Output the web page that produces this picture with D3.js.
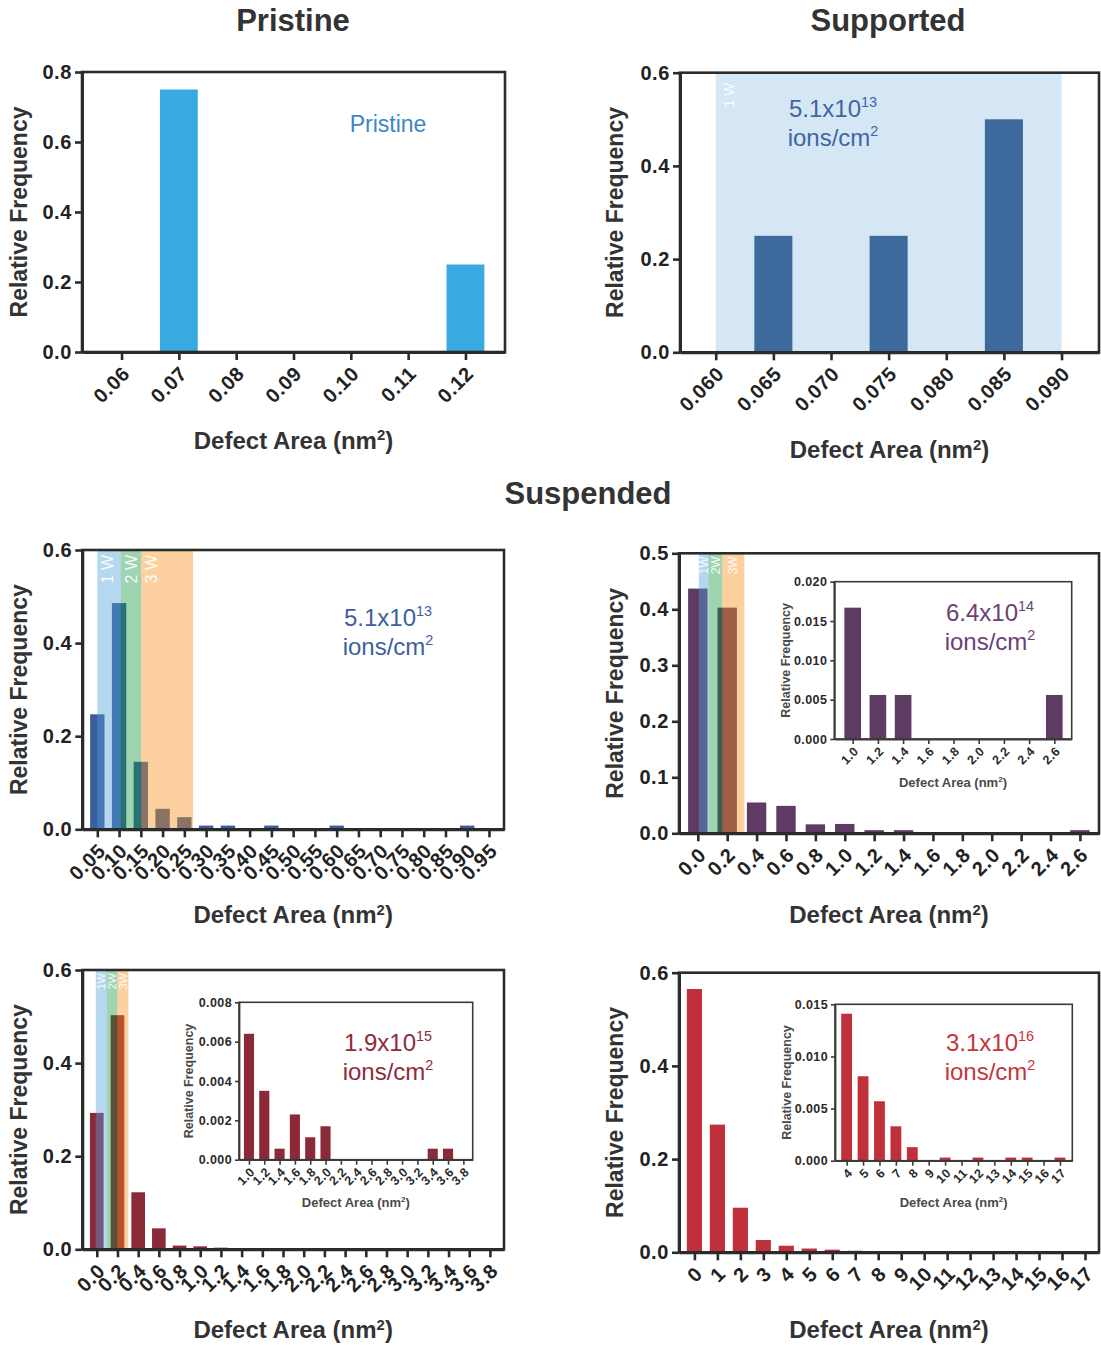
<!DOCTYPE html>
<html><head><meta charset="utf-8">
<script src="https://cdn.jsdelivr.net/npm/d3@7"></script>
<style>body{margin:0;background:#fff}svg{display:block}</style>
</head><body>
<script>
const FONT = '"Liberation Sans", Arial, Helvetica, sans-serif';

// ---- Histogram data: defect area bins (nm²) and relative frequency ----
const pristineArea = [0.06, 0.07, 0.08, 0.09, 0.10, 0.11, 0.12];
const pristineFreq = [0, 0.75, 0, 0, 0, 0, 0.25];

const supportedArea = [0.060, 0.065, 0.070, 0.075, 0.080, 0.085, 0.090];
const supportedFreq = [0, 0.25, 0, 0.25, 0, 0.50, 0];

const susp13Area = [0.05, 0.10, 0.15, 0.20, 0.25, 0.30, 0.35, 0.40, 0.45, 0.50,
                    0.55, 0.60, 0.65, 0.70, 0.75, 0.80, 0.85, 0.90, 0.95];
const susp13Freq = [0.247, 0.486, 0.145, 0.044, 0.026, 0.008, 0.008, 0, 0.008, 0,
                    0, 0.008, 0, 0, 0, 0, 0, 0.008, 0];

const susp14Area = [0.0, 0.2, 0.4, 0.6, 0.8, 1.0, 1.2, 1.4, 1.6, 1.8, 2.0, 2.2, 2.4, 2.6];
const susp14Freq = [0.437, 0.403, 0.055, 0.049, 0.016, 0.0167, 0.0056, 0.0056, 0, 0, 0, 0, 0, 0.0056];

const susp15Area = [0.0, 0.2, 0.4, 0.6, 0.8, 1.0, 1.2, 1.4, 1.6, 1.8,
                    2.0, 2.2, 2.4, 2.6, 2.8, 3.0, 3.2, 3.4, 3.6, 3.8];
const susp15Freq = [0.293, 0.503, 0.1225, 0.045, 0.008, 0.0064, 0.0035, 0.00056, 0.0023, 0.00114,
                    0.0017, 0, 0, 0, 0, 0, 0, 0.00056, 0.00056, 0];

const susp16Area = [0, 1, 2, 3, 4, 5, 6, 7, 8, 9, 10, 11, 12, 13, 14, 15, 16, 17];
const susp16Freq = [0.565, 0.274, 0.0957, 0.0264, 0.0141, 0.0081, 0.0057, 0.0033, 0.0013, 0,
                    0.0003, 0, 0.0003, 0, 0.0003, 0.0003, 0, 0.0003];

// ---- Tick values ----
const yTicks08 = [0, 0.2, 0.4, 0.6, 0.8];
const yTicks06 = [0, 0.2, 0.4, 0.6];
const yTicks05 = [0, 0.1, 0.2, 0.3, 0.4, 0.5];
const yTicksIn14 = [0, 0.005, 0.010, 0.015, 0.020];
const yTicksIn15 = [0, 0.002, 0.004, 0.006, 0.008];
const yTicksIn16 = [0, 0.005, 0.010, 0.015];

// ---- Vacancy-count regions (nm²) ----
const bandsSupported = [{ label: "1 W", x0: 0.060, x1: 0.090, kind: "w1" }];
const bands13 = [
  { label: "1 W", x0: 0.05, x1: 0.104, kind: "w1" },
  { label: "2 W", x0: 0.104, x1: 0.151, kind: "w2" },
  { label: "3 W", x0: 0.151, x1: 0.27, kind: "w3" }];
const bands14 = [
  { label: "1W", x0: 0.007, x1: 0.072, kind: "w1" },
  { label: "2W", x0: 0.072, x1: 0.167, kind: "w2" },
  { label: "3W", x0: 0.167, x1: 0.317, kind: "w3" }];
const bands15 = [
  { label: "1W", x0: -0.01, x1: 0.097, kind: "w1" },
  { label: "2W", x0: 0.097, x1: 0.199, kind: "w2" },
  { label: "3W", x0: 0.199, x1: 0.305, kind: "w3" }];

const bandFill = { w1: "#4f9fdc", w2: "#0c9337", w3: "#fa8f1d" };
const bandAlpha = { w1: 0.42, w2: 0.40, w3: 0.42 };

const svg = d3.select("body").append("svg")
  .attr("width", 1101).attr("height", 1345)
  .style("font-family", FONT);

function drawPanel(o) {
  const g = svg.append("g");
  const n = o.area.length;
  const step = o.area[1] - o.area[0];
  const x = d3.scaleLinear()
    .domain([o.area[0] - o.padL * step, o.area[n - 1] + o.padR * step])
    .range([o.left, o.right]);
  const y = d3.scaleLinear().domain([0, o.yMax]).range([o.bottom, o.top]);
  const half = 0.33 * step;

  if (o.inset) {
    g.append("rect").attr("x", o.left).attr("y", o.top)
      .attr("width", o.right - o.left).attr("height", o.bottom - o.top).attr("fill", "#fff");
  }

  // pale region drawn behind the bars
  if (o.bandsUnder) {
    g.selectAll("rect.bandU").data(o.bandsUnder).join("rect")
      .attr("x", d => x(d.x0)).attr("width", d => x(d.x1) - x(d.x0))
      .attr("y", o.top).attr("height", o.bottom - o.top)
      .attr("fill", o.underFill);
  }

  const rows = o.area.map((a, i) => ({ a, f: o.freq[i] })).filter(d => d.f > 0);
  g.selectAll("rect.bar").data(rows).join("rect")
    .attr("x", d => x(d.a - half))
    .attr("width", d => x(d.a + half) - x(d.a - half))
    .attr("y", d => y(d.f))
    .attr("height", d => y(0) - y(d.f))
    .attr("fill", o.color);

  // translucent regions laid over the bars
  if (o.bandsOver) {
    g.selectAll("rect.bandO").data(o.bandsOver).join("rect")
      .attr("x", d => x(d.x0)).attr("width", d => x(d.x1) - x(d.x0))
      .attr("y", o.top).attr("height", o.bottom - o.top)
      .attr("fill", d => bandFill[d.kind]).attr("fill-opacity", d => bandAlpha[d.kind]);
  }

  const bands = o.bandsUnder || o.bandsOver;
  if (bands) {
    g.selectAll("text.band").data(bands).join("text")
      .attr("transform", d => {
        const w = x(d.x1) - x(d.x0);
        const cx = x(d.x0) + Math.min(w / 2, o.bandLabelOffset);
        return `translate(${cx},${o.top + o.bandLabelTop}) rotate(-90)`;
      })
      .attr("text-anchor", "end").attr("dy", "0.36em")
      .attr("fill", "#fff").attr("fill-opacity", 0.92)
      .style("font-size", o.bandLabelSize + "px")
      .text(d => d.label);
  }

  // frame
  g.append("rect").attr("x", o.left).attr("y", o.top)
    .attr("width", o.right - o.left).attr("height", o.bottom - o.top)
    .attr("fill", "none").attr("stroke", o.frameColor).attr("stroke-width", o.frameW);

  const ya = g.append("g").attr("transform", `translate(${o.left},0)`)
    .call(d3.axisLeft(y).tickValues(o.yTicks).tickFormat(d3.format(o.yFmt))
      .tickSize(o.tick).tickSizeOuter(0).tickPadding(o.tickPad));
  const xa = g.append("g").attr("transform", `translate(0,${o.bottom})`)
    .call(d3.axisBottom(x).tickValues(o.xTicks || o.area).tickFormat(d3.format(o.xFmt))
      .tickSize(o.tick + 1).tickSizeOuter(0));

  [ya, xa].forEach(a => {
    a.select(".domain").attr("stroke", o.frameColor).attr("stroke-width", o.axisW);
    a.selectAll(".tick line").attr("stroke", o.frameColor).attr("stroke-width", o.tickW);
    a.selectAll("text").attr("fill", o.textColor)
      .style("font-size", o.tickFont + "px").style("font-weight", "bold")
      .style("font-family", FONT).style("letter-spacing", o.letter + "px");
  });
  xa.selectAll("text")
    .attr("x", 0).attr("y", 0).attr("dy", "0.35em")
    .attr("text-anchor", "end")
    .attr("transform", `translate(${o.lx},${o.ly}) rotate(-45)`);

  // axis titles
  g.append("text")
    .attr("transform", `translate(${o.left + o.yTitleDx},${(o.top + o.bottom) / 2}) rotate(-90)`)
    .attr("text-anchor", "middle").attr("fill", o.titleColor)
    .style("font-size", o.yTitleFont + "px").style("font-weight", "bold")
    .text("Relative Frequency");
  const xt = g.append("text")
    .attr("x", (o.left + o.right) / 2).attr("y", o.bottom + o.xTitleDy)
    .attr("text-anchor", "middle").attr("fill", o.titleColor)
    .style("font-size", o.titleFont + "px").style("font-weight", "bold");
  xt.append("tspan").text("Defect Area (nm");
  xt.append("tspan").attr("dy", -0.36 * o.titleFont).style("font-size", (0.62 * o.titleFont) + "px").text("2");
  xt.append("tspan").attr("dy", 0.36 * o.titleFont).text(")");
  return { g, x, y };
}

const mainStyle = {
  frameColor: "#2b2b2b", frameW: 2.6, axisW: 3, tickW: 2.6, tick: 7, tickPad: 3,
  tickFont: 20, letter: 0.6, textColor: "#222", titleColor: "#333", titleFont: 24, yTitleFont: 23,
  lx: 4, ly: 18
};
const insetStyle = {
  frameColor: "#3a3a3a", frameW: 1.6, axisW: 1.8, tickW: 1.6, tick: 4, tickPad: 3,
  tickFont: 12.5, letter: 0.4, textColor: "#2a2a2a", titleColor: "#4a4a4a", titleFont: 13, yTitleFont: 12.5,
  lx: 3, ly: 10, inset: true
};

function annotate(cx, y1, lines, color, size) {
  lines.forEach((ln, i) => {
    const t = svg.append("text").attr("x", cx).attr("y", y1 + i * 29)
      .attr("text-anchor", "middle").attr("fill", color)
      .style("font-size", size + "px");
    t.append("tspan").text(ln[0]);
    if (ln[1]) t.append("tspan").attr("dy", -0.42 * size)
      .style("font-size", (0.6 * size) + "px").text(ln[1]);
  });
}

function heading(cx, y, label) {
  svg.append("text").attr("x", cx).attr("y", y).attr("text-anchor", "middle")
    .attr("fill", "#333").style("font-size", "31px").style("font-weight", "bold").text(label);
}

// ---- Section headings ----
heading(293, 31, "Pristine");
heading(888, 31, "Supported");
heading(588, 504, "Suspended");

// ---- Pristine ----
drawPanel({ ...mainStyle, area: pristineArea, freq: pristineFreq,
  left: 82, right: 505, top: 72, bottom: 352, padL: 0.69, padR: 0.69,
  yMax: 0.8, yTicks: yTicks08, yFmt: ".1f", xFmt: ".2f", color: "#39a9e1",
  yTitleDx: -55, xTitleDy: 97 });
annotate(388, 132, [["Pristine"]], "#3b87c8", 23);

// ---- Supported ----
drawPanel({ ...mainStyle, area: supportedArea, freq: supportedFreq,
  left: 680, right: 1099, top: 72.7, bottom: 352.3, padL: 0.62, padR: 0.65,
  yMax: 0.6, yTicks: yTicks06, yFmt: ".1f", xFmt: ".3f", color: "#3e699d",
  bandsUnder: bandsSupported, underFill: "#d5e6f5",
  bandLabelOffset: 13, bandLabelTop: 10, bandLabelSize: 14,
  yTitleDx: -57, xTitleDy: 106 });
annotate(833, 117, [["5.1x10", "13"], ["ions/cm", "2"]], "#3d66a3", 24);

// ---- Suspended, 5.1x10^13 ----
drawPanel({ ...mainStyle, area: susp13Area, freq: susp13Freq,
  left: 82.3, right: 504, top: 550, bottom: 829.3, padL: 0.69, padR: 0.69,
  yMax: 0.6, yTicks: yTicks06, yFmt: ".1f", xFmt: ".2f", color: "#3a5e9b",
  bandsOver: bands13, bandLabelOffset: 10, bandLabelTop: 5, bandLabelSize: 16,
  yTitleDx: -55, xTitleDy: 94 });
annotate(388, 626, [["5.1x10", "13"], ["ions/cm", "2"]], "#3d5f9f", 24);

// ---- Suspended, 6.4x10^14 ----
drawPanel({ ...mainStyle, area: susp14Area, freq: susp14Freq,
  left: 679, right: 1099, top: 553.3, bottom: 833.3, padL: 0.64, padR: 0.65,
  yMax: 0.5, yTicks: yTicks05, yFmt: ".1f", xFmt: ".1f", color: "#5e3b63",
  bandsOver: bands14, bandLabelOffset: 10, bandLabelTop: 3, bandLabelSize: 12,
  yTitleDx: -56, xTitleDy: 90 });
drawPanel({ ...insetStyle, area: susp14Area.slice(5), freq: susp14Freq.slice(5),
  left: 834.3, right: 1071.7, top: 581.7, bottom: 739, padL: 0.73, padR: 0.69,
  yMax: 0.02, yTicks: yTicksIn14, yFmt: ".3f", xFmt: ".1f", color: "#5e3b63",
  yTitleDx: -44, xTitleDy: 48 });
annotate(990, 621, [["6.4x10", "14"], ["ions/cm", "2"]], "#6b4173", 24);

// ---- Suspended, 1.9x10^15 ----
drawPanel({ ...mainStyle, area: susp15Area, freq: susp15Freq,
  left: 82.3, right: 504, top: 970, bottom: 1249.3, padL: 0.70, padR: 0.68,
  yMax: 0.6, yTicks: yTicks06, yFmt: ".1f", xFmt: ".1f", color: "#8b2939",
  bandsOver: bands15, bandLabelOffset: 10, bandLabelTop: 3, bandLabelSize: 11,
  yTitleDx: -55, xTitleDy: 89 });
drawPanel({ ...insetStyle, area: susp15Area.slice(5), freq: susp15Freq.slice(5),
  left: 239, right: 472.7, top: 1002.3, bottom: 1159.7, padL: 0.65, padR: 0.61,
  yMax: 0.008, yTicks: yTicksIn15, yFmt: ".3f", xFmt: ".1f", color: "#8b2939",
  yTitleDx: -46, xTitleDy: 47 });
annotate(388, 1051, [["1.9x10", "15"], ["ions/cm", "2"]], "#8e2b3b", 24);

// ---- Suspended, 3.1x10^16 ----
drawPanel({ ...mainStyle, area: susp16Area, freq: susp16Freq,
  left: 679, right: 1099, top: 972.7, bottom: 1252.3, padL: 0.67, padR: 0.61,
  yMax: 0.6, yTicks: yTicks06, yFmt: ".1f", xFmt: "d", color: "#c0303a",
  yTitleDx: -56, xTitleDy: 86 });
drawPanel({ ...insetStyle, area: susp16Area.slice(4), freq: susp16Freq.slice(4),
  left: 835, right: 1072.3, top: 1004.3, bottom: 1160.7, padL: 0.71, padR: 0.75,
  yMax: 0.015, yTicks: yTicksIn16, yFmt: ".3f", xFmt: "d", color: "#c0303a",
  yTitleDx: -44, xTitleDy: 46 });
annotate(990, 1051, [["3.1x10", "16"], ["ions/cm", "2"]], "#c8343c", 24);
</script>
</body></html>
